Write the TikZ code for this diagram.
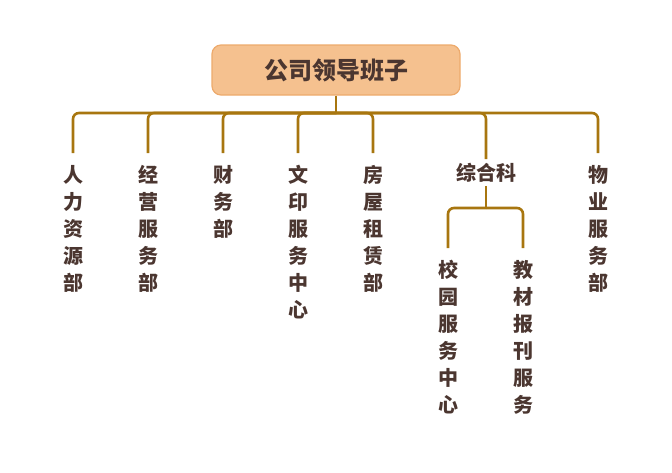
\documentclass[tikz,border=0pt]{standalone}
\usepackage{fontspec}
\setmainfont{Noto Sans CJK SC}[UprightFont={* Black}]
\definecolor{txt}{HTML}{4B3630}
\definecolor{lnc}{HTML}{A8760F}
\definecolor{boxfill}{HTML}{F5C18F}
\definecolor{boxline}{HTML}{EDAA6C}
\begin{document}
\begin{tikzpicture}[x=1pt,y=-1pt,
  rootbox/.style={draw=boxline,fill=boxfill,line width=1.2pt,rounded corners=9pt,
    minimum width=248pt,minimum height=50pt,inner sep=0pt,
    font=\fontsize{24}{26}\selectfont,text=txt},
  col/.style={anchor=north,inner sep=0pt,align=center,text=txt,
    font=\fontsize{20}{27}\selectfont},
  lbl/.style={inner sep=0pt,text=txt,font=\fontsize{20}{27}\selectfont},
  conn/.style={draw=lnc,line width=2.6pt,rounded corners=6pt},
  stem/.style={draw=lnc,line width=2.6pt}]
\useasboundingbox (0,0) rectangle (672,472);
\node[rootbox] (r) at (336,70) {公司领导班子};
\coordinate (jn) at (336,113);
\node[col] (c1) at (73,165) {人\\力\\资\\源\\部};
\node[col] (c2) at (148,165) {经\\营\\服\\务\\部};
\node[col] (c3) at (223,165) {财\\务\\部};
\node[col] (c4) at (298,165) {文\\印\\服\\务\\中\\心};
\node[col] (c5) at (373,165) {房\\屋\\租\\赁\\部};
\node[lbl] (c6) at (486,173) {综合科};
\node[col] (c7) at (598,165) {物\\业\\服\\务\\部};
\node[col] (s1) at (448,260) {校\\园\\服\\务\\中\\心};
\node[col] (s2) at (523,260) {教\\材\\报\\刊\\服\\务};
\coordinate (sj) at (486,208);
\draw[stem] (r.south) -- (jn);
\foreach \c/\yy in {c1/153,c2/153,c3/153,c4/153,c5/153,c6/159,c7/153}
  \draw[conn] (jn) -| (\c.north |- 0,\yy);
\draw[stem] ([yshift=-3pt]c6.south) -- (sj);
\foreach \c in {s1,s2}
  \draw[conn] (sj) -| (\c.north |- 0,248);
\end{tikzpicture}
\end{document}
